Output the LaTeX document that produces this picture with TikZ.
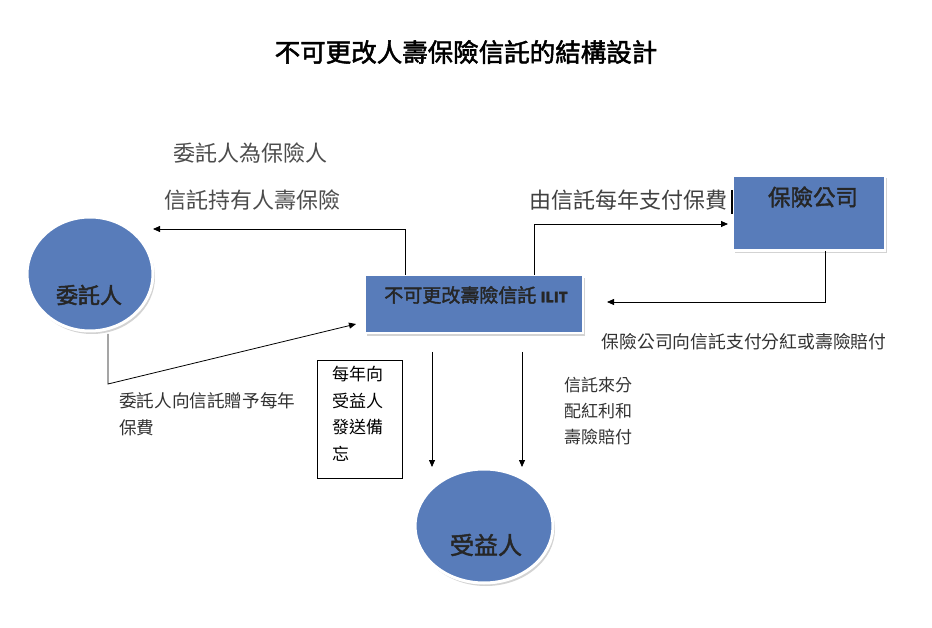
\documentclass[tikz,border=0pt]{standalone}
\usepackage{fontspec}
\setmainfont{Liberation Sans}
\newfontfamily\cjk{Noto Sans CJK TC}
\newfontfamily\cjkb{Noto Sans CJK TC}[FakeBold=2]
\usetikzlibrary{shadows,arrows.meta,shapes.geometric}
\definecolor{nodeblue}{RGB}{88,124,186}
\definecolor{lbl}{RGB}{50,50,50}
\tikzset{
  x=1pt,y=-1pt,
  bluebox/.style={rectangle,fill=nodeblue,draw=white,line width=2.5pt,
    drop shadow={shadow xshift=2pt,shadow yshift=-3pt,opacity=0.35}},
  blueell/.style={ellipse,fill=nodeblue,draw=white,line width=3pt,
    drop shadow={shadow xshift=2pt,shadow yshift=-3pt,opacity=0.35}},
  conn/.style={draw=black,line width=0.8pt,-{Triangle[length=7pt,width=6pt]}},
  lab/.style={inner sep=0pt,text=lbl,font=\cjk\fontsize{17}{26}\selectfont,align=left},
  nlab/.style={inner sep=0pt,font=\cjkb\fontsize{22}{26}\selectfont,text=black!85},
}
\begin{document}
\begin{tikzpicture}
\useasboundingbox (0,0) rectangle (932,628);
% title
\node[inner sep=0pt,font=\cjkb\fontsize{25.5}{30}\selectfont] (title) at (466,52) {不可更改人壽保險信託的結構設計};
% shapes
\node[blueell,minimum width=126pt,minimum height=114pt] (settlor) at (90,274) {};
\node[nlab] (settlorT) at (89,295) {委託人};
\node[bluebox,minimum width=218pt,minimum height=58pt] (ilit) at (474,304) {};
\node[nlab,font=\cjkb\fontsize{19}{22}\selectfont] (ilitT) at (476,295) {不可更改壽險信託 {\bfseries\fontsize{14}{16}\selectfont ILIT}};
\node[bluebox,minimum width=152pt,minimum height=75pt] (ins) at (809,213) {};
\node[nlab,font=\cjkb\fontsize{22.5}{26}\selectfont] (insT) at (813,197) {保險公司};
\node[blueell,minimum width=138pt,minimum height=114pt] (ben) at (484,526) {};
\node[nlab,font=\cjkb\fontsize{24}{28}\selectfont] (benT) at (486,545) {受益人};
% memo box
\node[draw=black,line width=0.8pt,minimum width=85pt,minimum height=118pt] (memo) at (360,419) {};
\node[lab,anchor=north west,font=\cjk\fontsize{17}{26.5}\selectfont,text=black] (memoT) at (332,366) {每年向\\受益人\\發送備\\忘};
% coordinates
\coordinate (a1) at (405,275);
\coordinate (a2) at (405,229);
\coordinate (a3) at (153,229);
\coordinate (b1) at (534,275);
\coordinate (b2) at (534,224);
\coordinate (b3) at (728,224);
\coordinate (c1) at (825,251);
\coordinate (c2) at (825,302);
\coordinate (c3) at (607,302);
\coordinate (d1) at (108,334);
\coordinate (d2) at (108,384);
\coordinate (d3) at (356,324);
\coordinate (e1) at (432,352);
\coordinate (e2) at (432,467);
\coordinate (f1) at (522,352);
\coordinate (f2) at (522,467);
% connectors
\draw[conn] (a1) -- (a2) -- (a3);
\draw[conn] (b1) -- (b2) -- (b3);
\draw[conn] (c1) -- (c2) -- (c3);
\draw[conn] (d1) -- (d2) -- (d3);
\draw[conn] (e1) -- (e2);
\draw[conn] (f1) -- (f2);
% cursor mark
\coordinate (k1) at (732,190);
\coordinate (k2) at (732,214);
\draw[line width=1.6pt] (k1) -- (k2);
% labels
\node[lab,font=\cjk\fontsize{22}{26}\selectfont,text=black!70] (l1) at (250,153) {委託人為保險人};
\node[lab,font=\cjk\fontsize{22}{26}\selectfont,text=black!70] (l2) at (252,200) {信託持有人壽保險};
\node[lab,font=\cjk\fontsize{22}{26}\selectfont,text=black!75] (l3) at (628,200) {由信託每年支付保費};
\node[lab,font=\cjk\fontsize{17.8}{26}\selectfont] (l4) at (744,342) {保險公司向信託支付分紅或壽險賠付};
\node[lab,anchor=north west,font=\cjk\fontsize{17.6}{27}\selectfont] (l5) at (119,392) {委託人向信託贈予每年\\保費};
\node[lab,anchor=north west] (l6) at (564,377) {信託來分\\配紅利和\\壽險賠付};
\end{tikzpicture}
\end{document}
